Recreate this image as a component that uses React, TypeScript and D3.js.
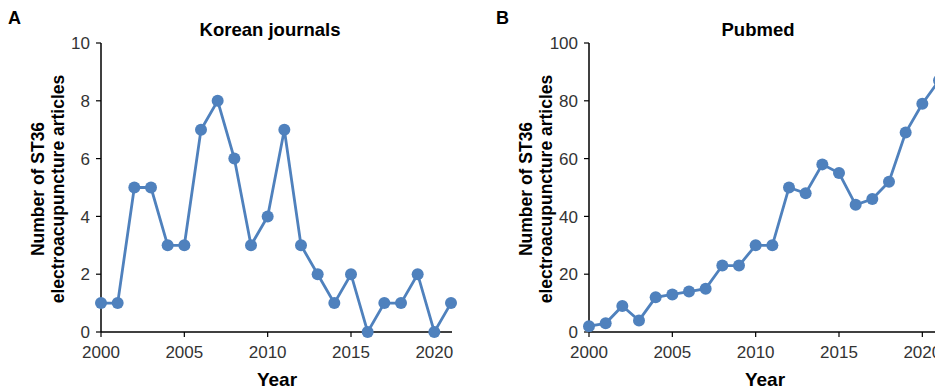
import * as d3 from 'd3'
import React from 'react'

const years = d3.range(2000, 2022)
const koreanCounts = [1, 1, 5, 5, 3, 3, 7, 8, 6, 3, 4, 7, 3, 2, 1, 2, 0, 1, 1, 2, 0, 1]
const pubmedCounts = [2, 3, 9, 4, 12, 13, 14, 15, 23, 23, 30, 30, 50, 48, 58, 55, 44, 46, 52, 69, 79, 87]
const xTicks = [2000, 2005, 2010, 2015, 2020]
const koreanTicks = [0, 2, 4, 6, 8, 10]
const pubmedTicks = [0, 20, 40, 60, 80, 100]

const FONT = '"Liberation Sans", Arial, sans-serif'
const BLUE = '#4f81bd'

const Panel = ({ left, letter, title, values, yMax, yTicks, xEnd }) => {
  const top = 43
  const bottom = 332
  const x = d3.scaleLinear().domain([2000, 2021]).range([left, left + 350])
  const y = d3.scaleLinear().domain([0, yMax]).range([bottom, top])
  const line = d3
    .line<number>()
    .x((d, i) => x(years[i]))
    .y((d) => y(d))
  const midX = (left + left + 350) / 2

  return (
    <g>
      <text x={left - 93} y={24} fontSize={18} fontWeight="bold" fontFamily={FONT}>
        {letter}
      </text>
      <text x={midX - 6} y={36} fontSize={18.5} fontWeight="bold" fontFamily={FONT} textAnchor="middle">
        {title}
      </text>
      {/* y axis */}
      <line x1={left} x2={left} y1={top} y2={bottom} stroke="#000" strokeWidth={1.5} />
      {yTicks.map((t) => (
        <g key={t}>
          <line x1={left - 5} x2={left} y1={y(t)} y2={y(t)} stroke="#000" strokeWidth={1.2} />
          <text x={left - 11} y={y(t)} dy="0.36em" textAnchor="end" fontSize={17} fontFamily={FONT} fill="#333">
            {t}
          </text>
        </g>
      ))}
      {/* x axis */}
      <line x1={left} x2={xEnd} y1={bottom} y2={bottom} stroke="#000" strokeWidth={1.5} />
      {xTicks.map((t) => (
        <g key={t}>
          <line x1={x(t)} x2={x(t)} y1={bottom} y2={bottom + 5} stroke="#000" strokeWidth={1.2} />
          <text x={x(t)} y={bottom + 26} textAnchor="middle" fontSize={17} fontFamily={FONT} fill="#333">
            {t}
          </text>
        </g>
      ))}
      <text x={midX + 1} y={386} textAnchor="middle" fontSize={19} fontWeight="bold" fontFamily={FONT}>
        Year
      </text>
      <g transform={`translate(${left - 57} ${189}) rotate(-90)`}>
        <text textAnchor="middle" fontSize={17.5} fontWeight="bold" fontFamily={FONT}>
          Number of ST36
        </text>
        <text y={20} textAnchor="middle" fontSize={17.5} fontWeight="bold" fontFamily={FONT}>
          electroacupuncture articles
        </text>
      </g>
      <path d={line(values)} fill="none" stroke={BLUE} strokeWidth={2.8} />
      {values.map((v, i) => (
        <circle key={i} cx={x(years[i])} cy={y(v)} r={6} fill={BLUE} />
      ))}
    </g>
  )
}

const App = () => (
  <svg
    width={935}
    height={390}
    style={{ position: 'absolute', left: 0, top: 0, background: '#fff' }}
  >
    <rect width={935} height={390} fill="#fff" />
    <Panel left={101} letter="A" title="Korean journals" values={koreanCounts} yMax={10} yTicks={koreanTicks} xEnd={452} />
    <Panel left={589} letter="B" title="Pubmed" values={pubmedCounts} yMax={100} yTicks={pubmedTicks} xEnd={935} />
  </svg>
)

export default App
